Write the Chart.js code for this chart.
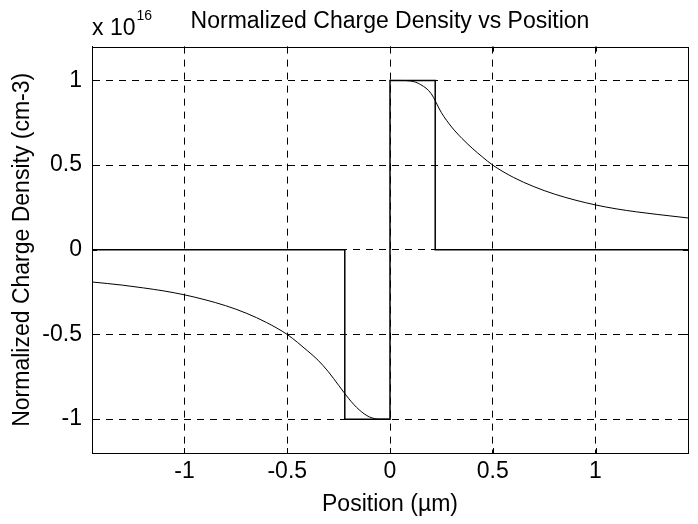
<!DOCTYPE html>
<html lang="en">
<head>
    <meta charset="UTF-8">
    <title>Normalized Charge Density vs Position</title>
    <script src="https://cdn.jsdelivr.net/npm/chart.js"></script>
    <style>
        html, body { margin: 0; padding: 0; background: #fff; }
        #wrap { width: 698px; height: 524px; }
    </style>
</head>
<body>
    <div id="wrap"><canvas id="rhoChart"></canvas></div>
    <script>
        // depletion approximation (step profile), x in um, rho in units of 1e16 cm-3
        const stepX = [-1.45, -0.22, -0.22, 0, 0, 0.22, 0.22, 1.45];
        const stepY = [0, 0, -1, -1, 1, 1, 0, 0];

        // full solution, p side
        const leftX = [-1.45, -1.3, -1.2, -1.1, -1.0, -0.9, -0.8, -0.7, -0.6, -0.5,
                       -0.45, -0.4, -0.35, -0.3, -0.25, -0.2, -0.15, -0.1, -0.05, 0];
        const leftY = [-0.19, -0.209, -0.225, -0.243, -0.266, -0.295, -0.33, -0.374, -0.43, -0.5,
                       -0.547, -0.598, -0.652, -0.72, -0.8, -0.88, -0.945, -0.987, -1.0, -1.0];

        // full solution, n side
        const rightX = [0, 0.05, 0.1, 0.15, 0.2, 0.25, 0.3, 0.35, 0.4, 0.45,
                        0.5, 0.6, 0.7, 0.8, 0.9, 1.0, 1.1, 1.2, 1.3, 1.45];
        const rightY = [1.0, 1.0, 0.997, 0.975, 0.923, 0.81, 0.725, 0.658, 0.6, 0.548,
                        0.5, 0.428, 0.373, 0.329, 0.294, 0.265, 0.242, 0.224, 0.209, 0.188];

        const xTicks = [-1, -0.5, 0, 0.5, 1];
        const yTicks = [-1, -0.5, 0, 0.5, 1];

        const toPts = (xs, ys) => xs.map((x, i) => ({x: x, y: ys[i]}));
        const FONT = '"Liberation Sans", Arial, Helvetica, sans-serif';

        // box round the axes, inward tick marks and the x 10^16 multiplier
        const matlabFrame = {
            id: 'matlabFrame',
            afterDatasetsDraw(chart) {
                const {ctx, chartArea: a, scales} = chart;
                ctx.save();
                ctx.strokeStyle = '#000';
                ctx.lineWidth = 1;
                ctx.beginPath();
                xTicks.forEach(v => {
                    const px = Math.round(scales.x.getPixelForValue(v)) + 0.5;
                    ctx.moveTo(px, a.top); ctx.lineTo(px, a.top + 5);
                    ctx.moveTo(px, a.bottom); ctx.lineTo(px, a.bottom - 5);
                });
                yTicks.forEach(v => {
                    const py = Math.round(scales.y.getPixelForValue(v)) + 0.5;
                    ctx.moveTo(a.left, py); ctx.lineTo(a.left + 5, py);
                    ctx.moveTo(a.right, py); ctx.lineTo(a.right - 5, py);
                });
                ctx.stroke();
                ctx.strokeRect(Math.round(a.left) + 0.5, Math.round(a.top) + 0.5,
                               Math.round(a.right - a.left), Math.round(a.bottom - a.top));

                ctx.fillStyle = '#000';
                ctx.textBaseline = 'alphabetic';
                ctx.textAlign = 'left';
                ctx.font = '23px ' + FONT;
                ctx.fillText('x 10', a.left, 35);
                const w = ctx.measureText('x 10').width;
                ctx.font = '14px ' + FONT;
                ctx.fillText('16', a.left + w + 1, 20);
                ctx.restore();
            }
        };

        const ctx = document.getElementById('rhoChart').getContext('2d');
        new Chart(ctx, {
            type: 'line',
            data: {
                datasets: [
                    {
                        label: 'depletion approximation',
                        data: toPts(stepX, stepY),
                        borderColor: '#000',
                        borderWidth: 1.5,
                        pointRadius: 0,
                        tension: 0
                    },
                    {
                        label: 'p side',
                        data: toPts(leftX, leftY),
                        borderColor: '#000',
                        borderWidth: 1,
                        pointRadius: 0,
                        cubicInterpolationMode: 'monotone'
                    },
                    {
                        label: 'n side',
                        data: toPts(rightX, rightY),
                        borderColor: '#000',
                        borderWidth: 1,
                        pointRadius: 0,
                        cubicInterpolationMode: 'monotone'
                    }
                ]
            },
            options: {
                responsive: true,
                maintainAspectRatio: false,
                animation: false,
                layout: { padding: { left: 0, right: 10, top: 0, bottom: 0 } },
                plugins: {
                    legend: { display: false },
                    tooltip: { enabled: false },
                    title: {
                        display: true,
                        text: 'Normalized Charge Density vs Position',
                        color: '#000',
                        fullSize: false,
                        font: { family: FONT, size: 23, weight: 'normal' },
                        padding: { top: 8, bottom: 11 }
                    }
                },
                scales: {
                    x: {
                        type: 'linear',
                        min: -1.45,
                        max: 1.45,
                        afterBuildTicks: s => { s.ticks = xTicks.map(v => ({value: v})); },
                        afterFit: s => { s.height = 71; },
                        grid: { color: '#000', lineWidth: 1, drawTicks: false },
                        border: { display: true, color: '#000', width: 1, dash: [7, 6] },
                        ticks: {
                            color: '#000',
                            padding: 5,
                            maxRotation: 0,
                            font: { family: FONT, size: 23 },
                            callback: v => String(v)
                        },
                        title: {
                            display: true,
                            text: 'Position (µm)',
                            color: '#000',
                            font: { family: FONT, size: 23 },
                            padding: { top: 0, bottom: 6 }
                        }
                    },
                    y: {
                        type: 'linear',
                        min: -1.2,
                        max: 1.2,
                        afterBuildTicks: s => { s.ticks = yTicks.map(v => ({value: v})); },
                        afterFit: s => { s.width = 92; },
                        grid: { color: '#000', lineWidth: 1, drawTicks: false },
                        border: { display: true, color: '#000', width: 1, dash: [7, 6] },
                        ticks: {
                            color: '#000',
                            padding: 10,
                            font: { family: FONT, size: 23 },
                            callback: v => String(v)
                        },
                        title: {
                            display: true,
                            text: 'Normalized Charge Density (cm-3)',
                            color: '#000',
                            font: { family: FONT, size: 23 },
                            padding: { top: 9, bottom: 0 }
                        }
                    }
                }
            },
            plugins: [matlabFrame]
        });
    </script>
</body>
</html>
